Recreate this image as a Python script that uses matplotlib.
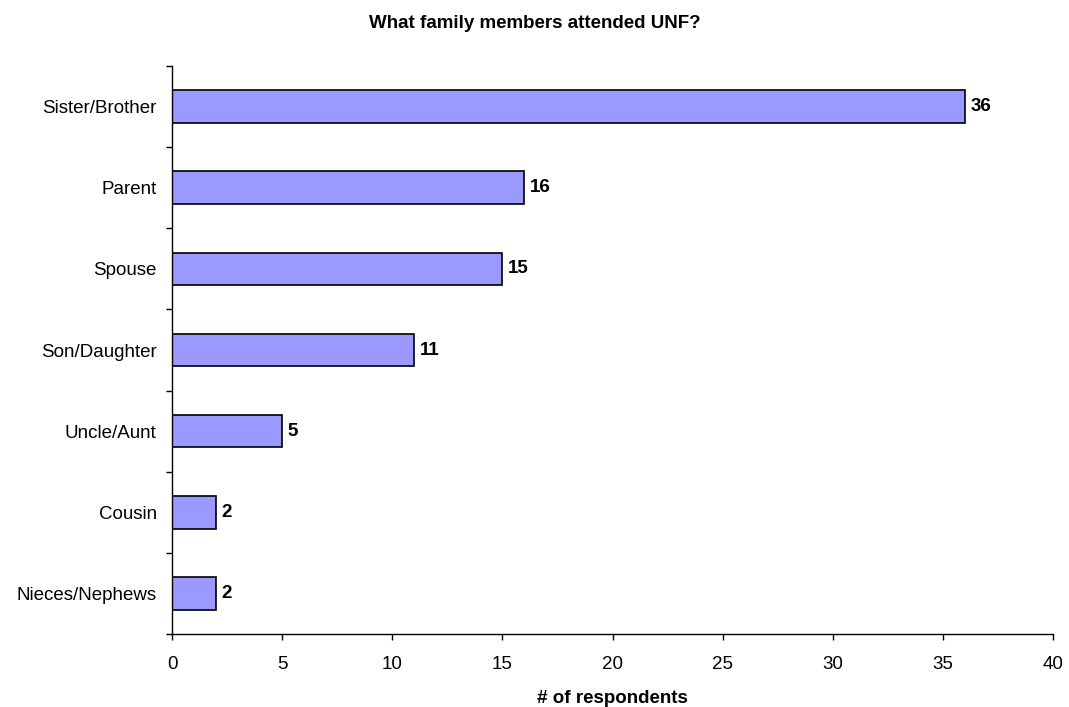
import matplotlib
matplotlib.use("Agg")
import matplotlib.pyplot as plt
import numpy as np

categories = ["Sister/Brother", "Parent", "Spouse", "Son/Daughter", "Uncle/Aunt", "Cousin", "Nieces/Nephews"]
values = [36, 16, 15, 11, 5, 2, 2]
xticks = [0, 5, 10, 15, 20, 25, 30, 35, 40]

plt.rcParams['font.family'] = ['Liberation Sans', 'DejaVu Sans']
FS = 13.5

fig = plt.figure(figsize=(10.69, 7.07), dpi=100)
ax = fig.add_axes([172/1069, 1-634/707, (1053-172)/1069, (634-66)/707])

n = len(categories)
pos = np.arange(n)
ax.barh(pos, values, height=0.4, color='#9999FF', edgecolor='black', linewidth=1.2)
for p, v in zip(pos, values):
    ax.text(v + 0.25, p, str(v), va='center', ha='left', fontsize=FS, fontweight='bold')

ax.set_ylim(n - 0.5, -0.5)
ax.set_xlim(0, 40)
ax.set_xticks(xticks)
ax.set_xticklabels([str(t) for t in xticks], fontsize=FS)
ax.set_yticks(np.arange(-0.5, n, 1.0))
ax.set_yticklabels([])
ax.set_yticks(pos, minor=True)
ax.set_yticklabels(categories, minor=True, fontsize=FS)
ax.tick_params(axis='y', which='minor', length=0, pad=11)
ax.tick_params(axis='y', which='major', direction='out', length=4.5, width=1)
ax.tick_params(axis='x', direction='out', length=4.5, width=1, pad=11.5)
for s in ['top', 'right']:
    ax.spines[s].set_visible(False)
for s in ['left', 'bottom']:
    ax.spines[s].set_linewidth(1)
ax.set_xlabel('# of respondents', fontsize=FS, fontweight='bold', labelpad=12)
fig.text(0.5, 1-24/707, 'What family members attended UNF?', ha='center', va='center', fontsize=FS, fontweight='bold')

fig.savefig('out.png', dpi=100)
